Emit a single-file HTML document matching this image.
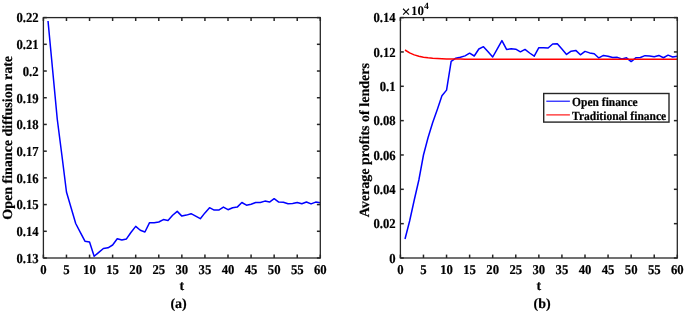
<!DOCTYPE html>
<html><head><meta charset="utf-8"><style>
html,body{margin:0;padding:0;background:#fff;overflow:hidden;width:685px;height:313px;}
svg{display:block;will-change:transform;}
text{font-family:"Liberation Serif",serif;font-weight:bold;fill:#000;text-rendering:geometricPrecision;stroke:#000;stroke-width:0.2px;}
</style></head><body>
<svg width="685" height="313" viewBox="0 0 685 313">
<rect width="685" height="313" fill="#fff"/>
<polyline points="48.02,21.00 52.63,70.00 57.24,119.00 61.86,155.00 66.47,192.00 71.09,207.70 75.70,223.50 80.32,232.30 84.94,241.20 89.55,242.00 94.17,256.30 98.78,252.40 103.40,248.50 108.01,247.80 112.62,245.00 117.24,238.70 121.85,239.90 126.47,238.90 131.09,232.20 135.70,226.40 140.31,230.30 144.93,232.00 149.55,222.70 154.16,222.70 158.78,222.00 163.39,219.60 168.01,220.40 172.62,215.30 177.24,211.40 181.85,216.10 186.47,215.10 191.08,213.70 195.70,216.10 200.31,218.70 204.93,212.90 209.54,207.70 214.16,210.10 218.77,210.10 223.39,207.10 228.00,209.70 232.62,207.70 237.23,207.10 241.85,202.50 246.46,205.20 251.08,204.20 255.69,202.50 260.31,202.50 264.92,201.10 269.54,202.10 274.15,198.70 278.77,202.10 283.38,202.30 288.00,203.70 292.61,203.40 297.23,202.50 301.84,203.70 306.45,202.00 311.07,203.90 315.69,202.10 320.30,202.70" fill="none" stroke="#0000ff" stroke-width="1.5" stroke-linejoin="round" stroke-linecap="butt"/><polyline points="405.01,239.00 409.63,221.00 414.25,200.00 418.86,180.00 423.47,155.00 428.09,137.50 432.70,122.50 437.32,109.50 441.93,95.80 446.55,90.10 451.16,61.40 455.78,58.20 460.39,57.20 465.01,55.90 469.62,53.20 474.24,56.00 478.85,49.00 483.47,46.70 488.08,51.80 492.70,57.00 497.31,48.80 501.93,40.60 506.54,49.40 511.16,48.80 515.77,49.20 520.39,51.80 525.00,49.40 529.62,53.00 534.23,56.20 538.85,47.70 543.46,47.70 548.08,48.00 552.69,44.00 557.31,43.80 561.92,49.10 566.54,54.40 571.15,51.20 575.77,50.40 580.38,54.80 585.00,51.40 589.62,52.90 594.23,53.80 598.85,57.95 603.46,55.45 608.07,56.25 612.69,57.55 617.30,57.35 621.92,59.05 626.53,57.85 631.15,61.55 635.76,57.85 640.38,57.55 644.99,55.65 649.61,55.95 654.22,56.75 658.84,55.45 663.45,57.75 668.07,55.15 672.68,57.05 677.30,56.25" fill="none" stroke="#0000ff" stroke-width="1.5" stroke-linejoin="round" stroke-linecap="butt"/><polyline points="405.01,50.00 409.63,52.91 414.25,54.90 418.86,56.26 423.47,57.19 428.09,57.82 432.70,58.26 437.32,58.56 441.93,58.76 446.55,58.90 451.16,58.99 455.78,59.06 460.39,59.10 465.01,59.13 469.62,59.15 474.24,59.17 478.85,59.18 483.47,59.19 488.08,59.19 492.70,59.19 497.31,59.20 501.93,59.20 506.54,59.20 511.16,59.20 515.77,59.20 520.39,59.20 525.00,59.20 529.62,59.20 534.23,59.20 538.85,59.20 543.46,59.20 548.08,59.20 552.69,59.20 557.31,59.20 561.92,59.20 566.54,59.20 571.15,59.20 575.77,59.20 580.38,59.20 585.00,59.20 589.62,59.20 594.23,59.20 598.85,59.20 603.46,59.20 608.07,59.20 612.69,59.20 617.30,59.20 621.92,59.20 626.53,59.20 631.15,59.20 635.76,59.20 640.38,59.20 644.99,59.20 649.61,59.20 654.22,59.20 658.84,59.20 663.45,59.20 668.07,59.20 672.68,59.20 677.30,59.20" fill="none" stroke="#ff0000" stroke-width="1.5" stroke-linejoin="round" stroke-linecap="butt"/><g stroke="#262626" stroke-width="1.5" fill="none"><line x1="43.40" y1="258.0" x2="43.40" y2="254.6" /><line x1="43.40" y1="17.6" x2="43.40" y2="21.0" /><line x1="66.47" y1="258.0" x2="66.47" y2="254.6" /><line x1="66.47" y1="17.6" x2="66.47" y2="21.0" /><line x1="89.55" y1="258.0" x2="89.55" y2="254.6" /><line x1="89.55" y1="17.6" x2="89.55" y2="21.0" /><line x1="112.62" y1="258.0" x2="112.62" y2="254.6" /><line x1="112.62" y1="17.6" x2="112.62" y2="21.0" /><line x1="135.70" y1="258.0" x2="135.70" y2="254.6" /><line x1="135.70" y1="17.6" x2="135.70" y2="21.0" /><line x1="158.78" y1="258.0" x2="158.78" y2="254.6" /><line x1="158.78" y1="17.6" x2="158.78" y2="21.0" /><line x1="181.85" y1="258.0" x2="181.85" y2="254.6" /><line x1="181.85" y1="17.6" x2="181.85" y2="21.0" /><line x1="204.93" y1="258.0" x2="204.93" y2="254.6" /><line x1="204.93" y1="17.6" x2="204.93" y2="21.0" /><line x1="228.00" y1="258.0" x2="228.00" y2="254.6" /><line x1="228.00" y1="17.6" x2="228.00" y2="21.0" /><line x1="251.08" y1="258.0" x2="251.08" y2="254.6" /><line x1="251.08" y1="17.6" x2="251.08" y2="21.0" /><line x1="274.15" y1="258.0" x2="274.15" y2="254.6" /><line x1="274.15" y1="17.6" x2="274.15" y2="21.0" /><line x1="297.23" y1="258.0" x2="297.23" y2="254.6" /><line x1="297.23" y1="17.6" x2="297.23" y2="21.0" /><line x1="320.30" y1="258.0" x2="320.30" y2="254.6" /><line x1="320.30" y1="17.6" x2="320.30" y2="21.0" /><line x1="43.4" y1="17.60" x2="46.8" y2="17.60" /><line x1="320.3" y1="17.60" x2="316.90000000000003" y2="17.60" /><line x1="43.4" y1="44.31" x2="46.8" y2="44.31" /><line x1="320.3" y1="44.31" x2="316.90000000000003" y2="44.31" /><line x1="43.4" y1="71.02" x2="46.8" y2="71.02" /><line x1="320.3" y1="71.02" x2="316.90000000000003" y2="71.02" /><line x1="43.4" y1="97.73" x2="46.8" y2="97.73" /><line x1="320.3" y1="97.73" x2="316.90000000000003" y2="97.73" /><line x1="43.4" y1="124.44" x2="46.8" y2="124.44" /><line x1="320.3" y1="124.44" x2="316.90000000000003" y2="124.44" /><line x1="43.4" y1="151.16" x2="46.8" y2="151.16" /><line x1="320.3" y1="151.16" x2="316.90000000000003" y2="151.16" /><line x1="43.4" y1="177.87" x2="46.8" y2="177.87" /><line x1="320.3" y1="177.87" x2="316.90000000000003" y2="177.87" /><line x1="43.4" y1="204.58" x2="46.8" y2="204.58" /><line x1="320.3" y1="204.58" x2="316.90000000000003" y2="204.58" /><line x1="43.4" y1="231.29" x2="46.8" y2="231.29" /><line x1="320.3" y1="231.29" x2="316.90000000000003" y2="231.29" /><line x1="43.4" y1="258.00" x2="46.8" y2="258.00" /><line x1="320.3" y1="258.00" x2="316.90000000000003" y2="258.00" /><rect x="43.4" y="17.6" width="276.90" height="240.40" fill="none" stroke-width="1.3"/></g><g stroke="#262626" stroke-width="1.5" fill="none"><line x1="400.40" y1="258.0" x2="400.40" y2="254.6" /><line x1="400.40" y1="17.6" x2="400.40" y2="21.0" /><line x1="423.47" y1="258.0" x2="423.47" y2="254.6" /><line x1="423.47" y1="17.6" x2="423.47" y2="21.0" /><line x1="446.55" y1="258.0" x2="446.55" y2="254.6" /><line x1="446.55" y1="17.6" x2="446.55" y2="21.0" /><line x1="469.62" y1="258.0" x2="469.62" y2="254.6" /><line x1="469.62" y1="17.6" x2="469.62" y2="21.0" /><line x1="492.70" y1="258.0" x2="492.70" y2="254.6" /><line x1="492.70" y1="17.6" x2="492.70" y2="21.0" /><line x1="515.77" y1="258.0" x2="515.77" y2="254.6" /><line x1="515.77" y1="17.6" x2="515.77" y2="21.0" /><line x1="538.85" y1="258.0" x2="538.85" y2="254.6" /><line x1="538.85" y1="17.6" x2="538.85" y2="21.0" /><line x1="561.92" y1="258.0" x2="561.92" y2="254.6" /><line x1="561.92" y1="17.6" x2="561.92" y2="21.0" /><line x1="585.00" y1="258.0" x2="585.00" y2="254.6" /><line x1="585.00" y1="17.6" x2="585.00" y2="21.0" /><line x1="608.07" y1="258.0" x2="608.07" y2="254.6" /><line x1="608.07" y1="17.6" x2="608.07" y2="21.0" /><line x1="631.15" y1="258.0" x2="631.15" y2="254.6" /><line x1="631.15" y1="17.6" x2="631.15" y2="21.0" /><line x1="654.22" y1="258.0" x2="654.22" y2="254.6" /><line x1="654.22" y1="17.6" x2="654.22" y2="21.0" /><line x1="677.30" y1="258.0" x2="677.30" y2="254.6" /><line x1="677.30" y1="17.6" x2="677.30" y2="21.0" /><line x1="400.4" y1="17.60" x2="403.79999999999995" y2="17.60" /><line x1="677.3" y1="17.60" x2="673.9" y2="17.60" /><line x1="400.4" y1="51.94" x2="403.79999999999995" y2="51.94" /><line x1="677.3" y1="51.94" x2="673.9" y2="51.94" /><line x1="400.4" y1="86.29" x2="403.79999999999995" y2="86.29" /><line x1="677.3" y1="86.29" x2="673.9" y2="86.29" /><line x1="400.4" y1="120.63" x2="403.79999999999995" y2="120.63" /><line x1="677.3" y1="120.63" x2="673.9" y2="120.63" /><line x1="400.4" y1="154.97" x2="403.79999999999995" y2="154.97" /><line x1="677.3" y1="154.97" x2="673.9" y2="154.97" /><line x1="400.4" y1="189.31" x2="403.79999999999995" y2="189.31" /><line x1="677.3" y1="189.31" x2="673.9" y2="189.31" /><line x1="400.4" y1="223.66" x2="403.79999999999995" y2="223.66" /><line x1="677.3" y1="223.66" x2="673.9" y2="223.66" /><line x1="400.4" y1="258.00" x2="403.79999999999995" y2="258.00" /><line x1="677.3" y1="258.00" x2="673.9" y2="258.00" /><rect x="400.4" y="17.6" width="276.90" height="240.40" fill="none" stroke-width="1.3"/></g><g font-size="12.7"><text transform="translate(43.40,273.9) scale(1,1.06)" text-anchor="middle">0</text><text transform="translate(66.47,273.9) scale(1,1.06)" text-anchor="middle">5</text><text transform="translate(89.55,273.9) scale(1,1.06)" text-anchor="middle">10</text><text transform="translate(112.62,273.9) scale(1,1.06)" text-anchor="middle">15</text><text transform="translate(135.70,273.9) scale(1,1.06)" text-anchor="middle">20</text><text transform="translate(158.78,273.9) scale(1,1.06)" text-anchor="middle">25</text><text transform="translate(181.85,273.9) scale(1,1.06)" text-anchor="middle">30</text><text transform="translate(204.93,273.9) scale(1,1.06)" text-anchor="middle">35</text><text transform="translate(228.00,273.9) scale(1,1.06)" text-anchor="middle">40</text><text transform="translate(251.08,273.9) scale(1,1.06)" text-anchor="middle">45</text><text transform="translate(274.15,273.9) scale(1,1.06)" text-anchor="middle">50</text><text transform="translate(297.23,273.9) scale(1,1.06)" text-anchor="middle">55</text><text transform="translate(320.30,273.9) scale(1,1.06)" text-anchor="middle">60</text><text transform="translate(38.60,22.40) scale(1,1.08)" text-anchor="end">0.22</text><text transform="translate(38.60,49.11) scale(1,1.08)" text-anchor="end">0.21</text><text transform="translate(38.60,75.82) scale(1,1.08)" text-anchor="end">0.2</text><text transform="translate(38.60,102.53) scale(1,1.08)" text-anchor="end">0.19</text><text transform="translate(38.60,129.24) scale(1,1.08)" text-anchor="end">0.18</text><text transform="translate(38.60,155.96) scale(1,1.08)" text-anchor="end">0.17</text><text transform="translate(38.60,182.67) scale(1,1.08)" text-anchor="end">0.16</text><text transform="translate(38.60,209.38) scale(1,1.08)" text-anchor="end">0.15</text><text transform="translate(38.60,236.09) scale(1,1.08)" text-anchor="end">0.14</text><text transform="translate(38.60,262.80) scale(1,1.08)" text-anchor="end">0.13</text></g><g font-size="12.7"><text transform="translate(400.40,273.9) scale(1,1.06)" text-anchor="middle">0</text><text transform="translate(423.47,273.9) scale(1,1.06)" text-anchor="middle">5</text><text transform="translate(446.55,273.9) scale(1,1.06)" text-anchor="middle">10</text><text transform="translate(469.62,273.9) scale(1,1.06)" text-anchor="middle">15</text><text transform="translate(492.70,273.9) scale(1,1.06)" text-anchor="middle">20</text><text transform="translate(515.77,273.9) scale(1,1.06)" text-anchor="middle">25</text><text transform="translate(538.85,273.9) scale(1,1.06)" text-anchor="middle">30</text><text transform="translate(561.92,273.9) scale(1,1.06)" text-anchor="middle">35</text><text transform="translate(585.00,273.9) scale(1,1.06)" text-anchor="middle">40</text><text transform="translate(608.07,273.9) scale(1,1.06)" text-anchor="middle">45</text><text transform="translate(631.15,273.9) scale(1,1.06)" text-anchor="middle">50</text><text transform="translate(654.22,273.9) scale(1,1.06)" text-anchor="middle">55</text><text transform="translate(677.30,273.9) scale(1,1.06)" text-anchor="middle">60</text><text transform="translate(395.60,22.40) scale(1,1.08)" text-anchor="end">0.14</text><text transform="translate(395.60,56.74) scale(1,1.08)" text-anchor="end">0.12</text><text transform="translate(395.60,91.09) scale(1,1.08)" text-anchor="end">0.1</text><text transform="translate(395.60,125.43) scale(1,1.08)" text-anchor="end">0.08</text><text transform="translate(395.60,159.77) scale(1,1.08)" text-anchor="end">0.06</text><text transform="translate(395.60,194.11) scale(1,1.08)" text-anchor="end">0.04</text><text transform="translate(395.60,228.46) scale(1,1.08)" text-anchor="end">0.02</text><text transform="translate(395.60,262.80) scale(1,1.08)" text-anchor="end">0</text></g><text x="181.85" y="290.3" text-anchor="middle" font-size="13.9">t</text><text x="538.85" y="290.3" text-anchor="middle" font-size="13.9">t</text><text transform="translate(11.5,137.80) rotate(-90)" text-anchor="middle" font-size="14.0">Open finance diffusion rate</text><text transform="translate(369.1,140.2) rotate(-90)" text-anchor="middle" font-size="14.05">Average profits of lenders</text><text x="178.6" y="308.3" text-anchor="middle" font-size="14">(a)</text><text x="542.1" y="308.3" text-anchor="middle" font-size="14">(b)</text><text x="401.4" y="17.2" font-weight="normal" style="stroke:none" font-size="16">×</text><text x="411.0" y="15.1" font-weight="normal" style="stroke:none" font-size="13">10</text><text x="424.0" y="8.6" font-weight="normal" style="stroke:none" font-size="9.6">4</text><rect x="543.7" y="93.5" width="125.3" height="28.6" fill="#fff" stroke="#262626" stroke-width="1.4"/><line x1="546.3" y1="101.2" x2="569.9" y2="101.2" stroke="#0000ff" stroke-width="1.1"/><line x1="546.3" y1="114.9" x2="569.9" y2="114.9" stroke="#ff0000" stroke-width="1.1"/><text transform="translate(572.1,106.1) scale(1,1.08)" font-size="11.5">Open finance</text><text transform="translate(572.1,119.6) scale(1,1.08)" font-size="11.5">Traditional finance</text>
</svg>
</body></html>
